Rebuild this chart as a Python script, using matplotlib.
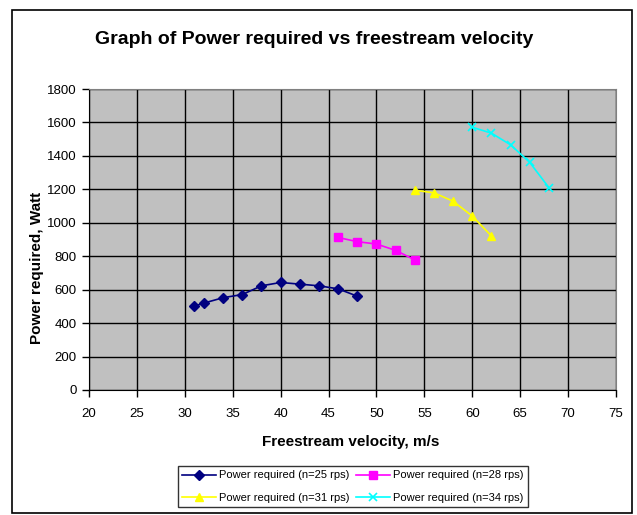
import matplotlib
matplotlib.use("Agg")
import matplotlib.pyplot as plt
from matplotlib.patches import Rectangle

plt.rcParams['font.family'] = ['Liberation Sans', 'DejaVu Sans']

v25 = [31, 32, 34, 36, 38, 40, 42, 44, 46, 48]
p25 = [502, 520, 552, 571, 623, 643, 633, 623, 605, 561]
v28 = [46, 48, 50, 52, 54]
p28 = [912, 887, 873, 835, 778]
v31 = [54, 56, 58, 60, 62]
p31 = [1195, 1179, 1129, 1040, 921]
v34 = [60, 62, 64, 66, 68]
p34 = [1571, 1536, 1466, 1361, 1210]

labels = ["Power required (n=25 rps)", "Power required (n=28 rps)",
          "Power required (n=31 rps)", "Power required (n=34 rps)"]
xticks = list(range(20, 80, 5))
yticks = list(range(0, 2000, 200))

W, H = 637, 515
fig = plt.figure(figsize=(W / 100, H / 100), dpi=100)
fig.patch.set_facecolor('white')

# outer chart border
fig.add_artist(Rectangle((12 / W, 1 - 513 / H), (632 - 12) / W, (513 - 10) / H,
                         transform=fig.transFigure, fill=False,
                         edgecolor='black', lw=1.2))

ax = fig.add_axes([89 / W, 1 - 390 / H, (616 - 89) / W, (390 - 89) / H])
ax.set_facecolor('#C0C0C0')

l1, = ax.plot(v25, p25, color='#000080', marker='D', markersize=5, lw=1.2)
l2, = ax.plot(v28, p28, color='#FF00FF', marker='s', markersize=6, lw=1.2)
l3, = ax.plot(v31, p31, color='#FFFF00', marker='^', markersize=6, lw=1.2)
l4, = ax.plot(v34, p34, color='#00FFFF', marker='x', markersize=6, lw=1.2,
              markeredgewidth=1.2)

ax.set_xlim(20, 75)
ax.set_ylim(0, 1800)
ax.set_xticks(xticks)
ax.set_yticks(yticks)
ax.grid(True, color='black', lw=1)
ax.set_axisbelow(True)
ax.tick_params(direction='out', length=5, width=1, labelsize=9.5, pad=4)
ax.tick_params(axis='x', pad=8)
for s in ['top', 'right']:
    ax.spines[s].set_color('#808080')
for s in ['left', 'bottom']:
    ax.spines[s].set_color('black')

fig.text(314 / W, 1 - 39 / H, "Graph of Power required vs freestream velocity",
         ha='center', va='center', fontsize=14, fontweight='bold')
fig.text(351 / W, 1 - 442 / H, "Freestream velocity, m/s",
         ha='center', va='center', fontsize=11, fontweight='bold')
fig.text(37 / W, 1 - 268 / H, "Power required, Watt", rotation=90,
         ha='center', va='center', fontsize=11, fontweight='bold')

# legend filled row-wise like the reference (matplotlib fills column-wise)
leg = fig.legend([l1, l3, l2, l4], [labels[0], labels[2], labels[1], labels[3]],
                 ncol=2, loc='upper left',
                 bbox_to_anchor=(178 / W, 1 - 466 / H), fontsize=8,
                 frameon=True, fancybox=False, edgecolor='black',
                 handlelength=3, handletextpad=0.3, columnspacing=0.6,
                 borderpad=0.4, labelspacing=1.1, borderaxespad=0)
leg.get_frame().set_linewidth(1)

fig.savefig("out.png", dpi=100)
